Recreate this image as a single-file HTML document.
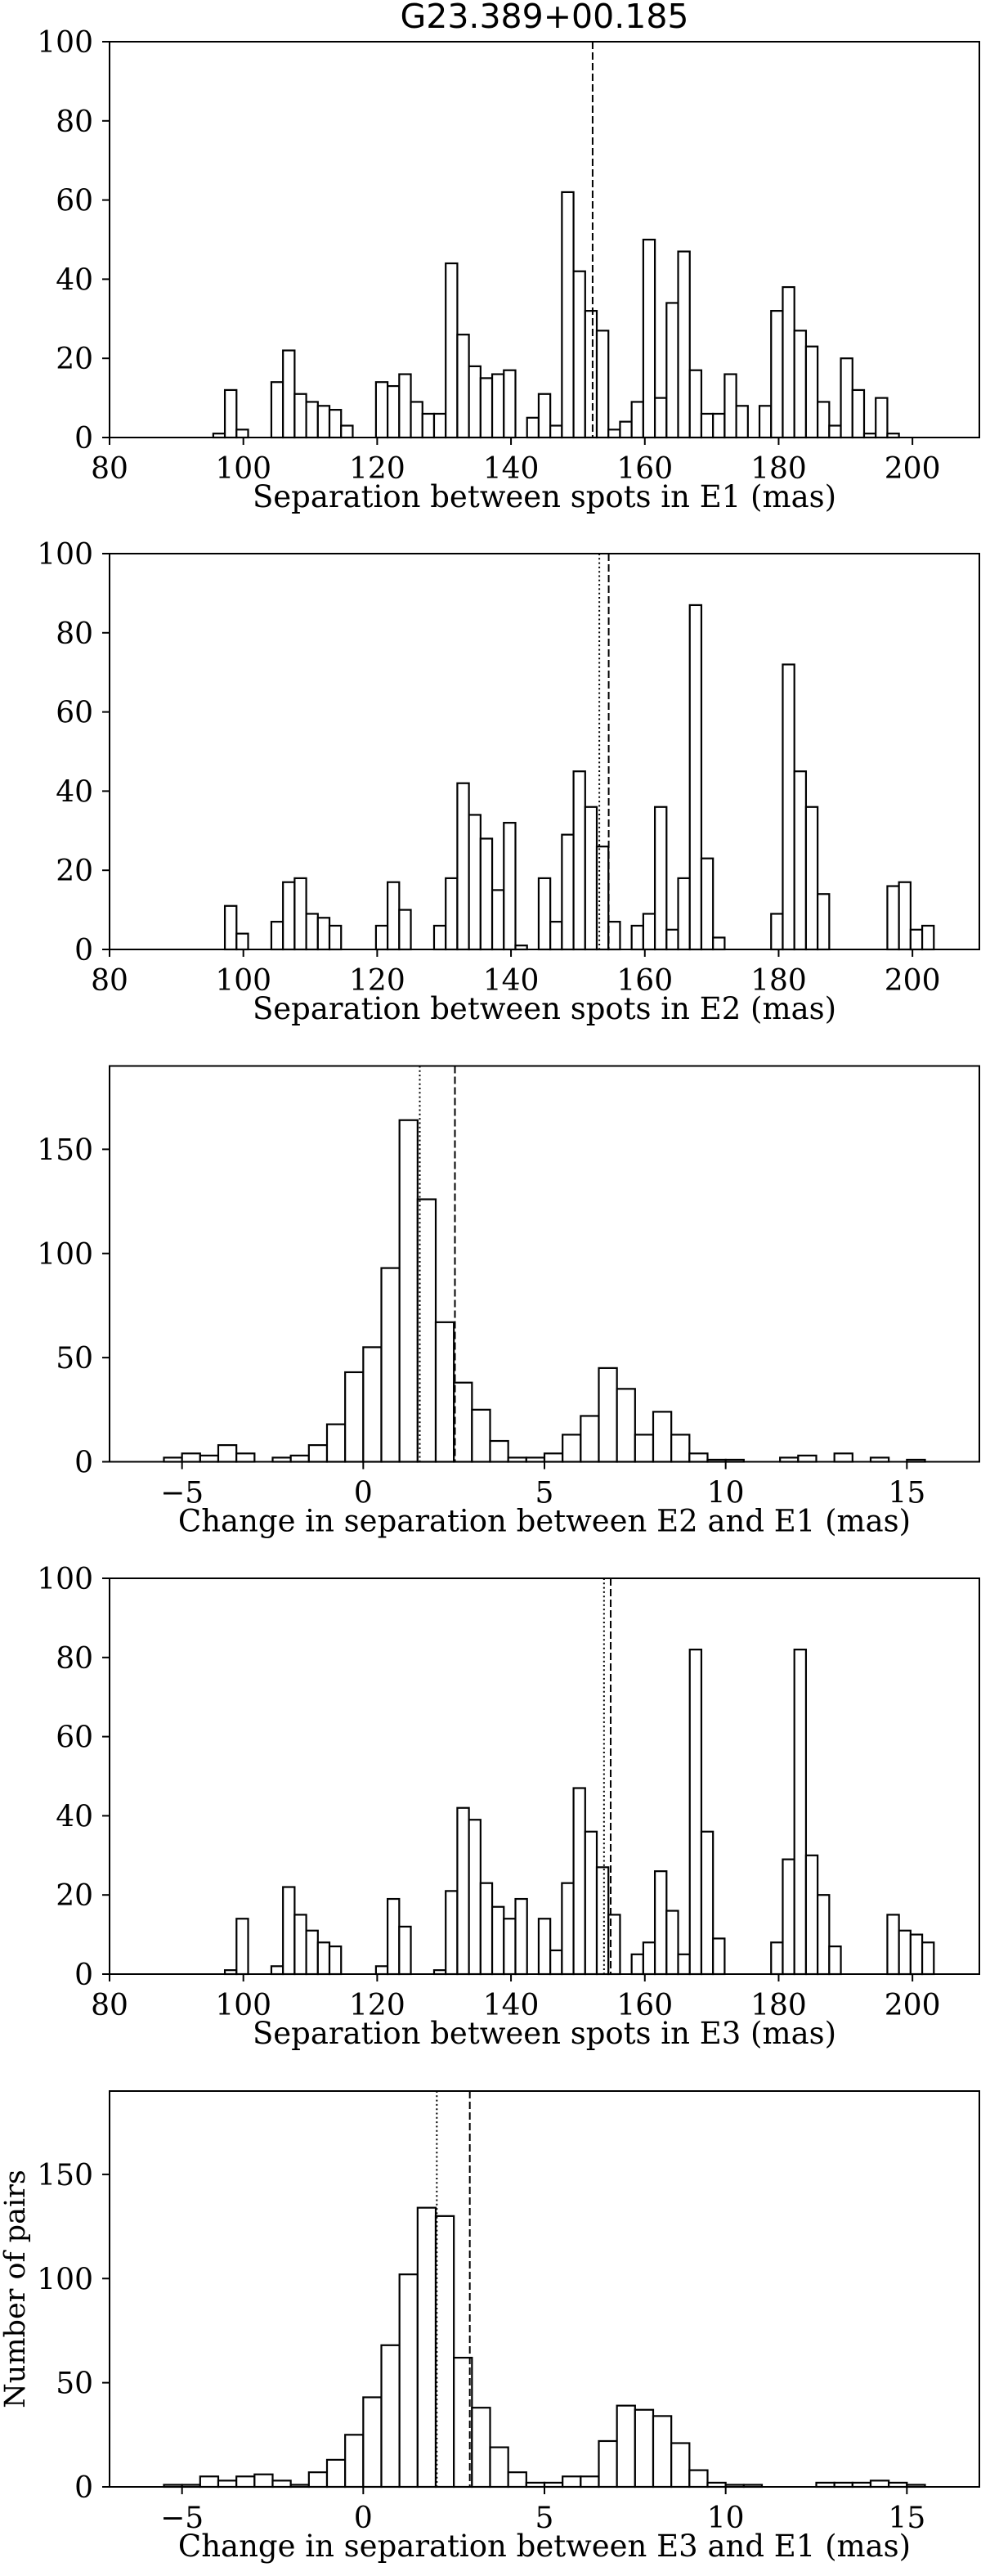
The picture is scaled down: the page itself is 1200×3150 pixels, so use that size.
<!DOCTYPE html>
<html><head><meta charset="utf-8"><style>
body{margin:0;background:#fff}
svg text{fill:#000}
.tk{font-family:"DejaVu Serif","Liberation Serif",serif;font-size:36px}
.lb{font-family:"DejaVu Serif","Liberation Serif",serif;font-size:37px}
</style></head><body>
<svg id="fig" xmlns="http://www.w3.org/2000/svg" width="1200" height="3145" viewBox="0 0 1200 3145">
<rect width="1200" height="3145" fill="#fff"/>
<text x="666" y="34" text-anchor="middle" style="font-family:'DejaVu Sans','Liberation Sans',sans-serif;font-size:41px">G23.389+00.185</text>
</svg>
<script>
const e1Counts=[1,12,2,0,0,14,22,11,9,8,7,3,0,0,14,13,16,9,6,6,44,26,18,15,16,17,0,5,11,3,62,42,32,27,2,4,9,50,10,34,47,17,6,6,16,8,0,8,32,38,27,23,9,3,20,12,1,10,1];
const e2Counts=[0,11,4,0,0,7,17,18,9,8,6,0,0,0,6,17,10,0,0,6,18,42,34,28,15,32,1,0,18,7,29,45,36,26,7,0,6,9,36,5,18,87,23,3,0,0,0,0,9,72,45,36,14,0,0,0,0,0,16,17,5,6];
const d21Counts=[2,4,3,8,4,0,2,3,8,18,43,55,93,164,126,67,38,25,10,2,2,4,13,22,45,35,13,24,13,4,1,1,0,0,2,3,0,4,0,2,0,1];
const e3Counts=[0,1,14,0,0,2,22,15,11,8,7,0,0,0,2,19,12,0,0,1,21,42,39,23,17,14,19,0,14,6,23,47,36,27,15,0,5,8,26,16,5,82,36,9,0,0,0,0,8,29,82,30,20,7,0,0,0,0,15,11,10,8];
const d31Counts=[1,1,5,3,5,6,3,1,7,13,25,43,68,102,134,130,62,38,19,7,2,2,5,5,22,39,37,34,21,8,2,1,1,0,0,0,2,2,2,3,2,1];
const sepTicks=[80,100,120,140,160,180,200];
const chgTicks=[-5,0,5,10,15];
const cntTicks100=[0,20,40,60,80,100];
const cntTicks150=[0,50,100,150];
const medianLines=[[152.2,null],[154.6,153.2],[2.53,1.56],[154.9,153.9],[2.94,2.03]];
const sepBin=[95.5,1.737];
const chgBin=[-5.5,0.5];

const NS='http://www.w3.org/2000/svg';
const svg=document.getElementById('fig');
function mk(t,a,p){const e=document.createElementNS(NS,t);for(const k in a)e.setAttribute(k,a[k]);(p||svg).appendChild(e);return e;}

const panels=[
 {counts:e1Counts,bin:sepBin,xlim:[80,210],ylim:[0,100],xt:sepTicks,yt:cntTicks100,label:'Separation between spots in E1 (mas)',lines:medianLines[0]},
 {counts:e2Counts,bin:sepBin,xlim:[80,210],ylim:[0,100],xt:sepTicks,yt:cntTicks100,label:'Separation between spots in E2 (mas)',lines:medianLines[1]},
 {counts:d21Counts,bin:chgBin,xlim:[-7,17],ylim:[0,190],xt:chgTicks,yt:cntTicks150,label:'Change in separation between E2 and E1 (mas)',lines:medianLines[2]},
 {counts:e3Counts,bin:sepBin,xlim:[80,210],ylim:[0,100],xt:sepTicks,yt:cntTicks100,label:'Separation between spots in E3 (mas)',lines:medianLines[3]},
 {counts:d31Counts,bin:chgBin,xlim:[-7,17],ylim:[0,190],xt:chgTicks,yt:cntTicks150,label:'Change in separation between E3 and E1 (mas)',lines:medianLines[4],ylabel:'Number of pairs'}
];
const L=134,R=1198,H=484,tops=[51,677,1303.5,1930,2557];

panels.forEach((p,i)=>{
 const T=tops[i],B=T+H;
 const g=mk('g',{});
 
 
 const X=v=>L+(v-p.xlim[0])/(p.xlim[1]-p.xlim[0])*(R-L);
 const Y=v=>B-(v-p.ylim[0])/(p.ylim[1]-p.ylim[0])*H;
 p.counts.forEach((c,k)=>{
  const x0=X(p.bin[0]+k*p.bin[1]),x1=X(p.bin[0]+(k+1)*p.bin[1]);
  const r=mk('rect',{x:x0,y:Y(c),width:x1-x0,height:B-Y(c),fill:'#fff',stroke:'#000','stroke-width':2.2},g);
  
  
 });
 if(p.lines[0]!=null){const l=mk('line',{x1:X(p.lines[0]),x2:X(p.lines[0]),y1:T,y2:B,stroke:'#000','stroke-width':2,'stroke-dasharray':'9,4'},g);
  }
 if(p.lines[1]!=null){const l=mk('line',{x1:X(p.lines[1]),x2:X(p.lines[1]),y1:T,y2:B,stroke:'#000','stroke-width':2,'stroke-dasharray':'2,3.3'},g);
  }
 const fr=mk('rect',{x:L,y:T,width:R-L,height:H,fill:'none',stroke:'#000','stroke-width':2},g);
 
 p.xt.forEach(v=>{
  mk('line',{x1:X(v),x2:X(v),y1:B,y2:B+9,stroke:'#000','stroke-width':2},g);
  const t=mk('text',{x:X(v),y:B+50,'text-anchor':'middle',class:'tk'},g);
  t.textContent=v<0?'\u2212'+(-v):String(v);
  
 });
 p.yt.forEach(v=>{
  mk('line',{x1:L-9,x2:L,y1:Y(v),y2:Y(v),stroke:'#000','stroke-width':2},g);
  const t=mk('text',{x:114,y:Y(v)+13,'text-anchor':'end',class:'tk'},g);
  t.textContent=String(v);
  
 });
 const xl=mk('text',{x:(L+R)/2,y:B+85,'text-anchor':'middle',class:'lb'},g);
 xl.textContent=p.label;
 
 if(p.ylabel){
  const yl=mk('text',{x:0,y:0,'text-anchor':'middle',class:'lb',style:'font-size:35px',transform:'translate(30,'+(T+H/2)+') rotate(-90)'},g);
  yl.textContent=p.ylabel;
  
 }
});
</script>
</body></html>
